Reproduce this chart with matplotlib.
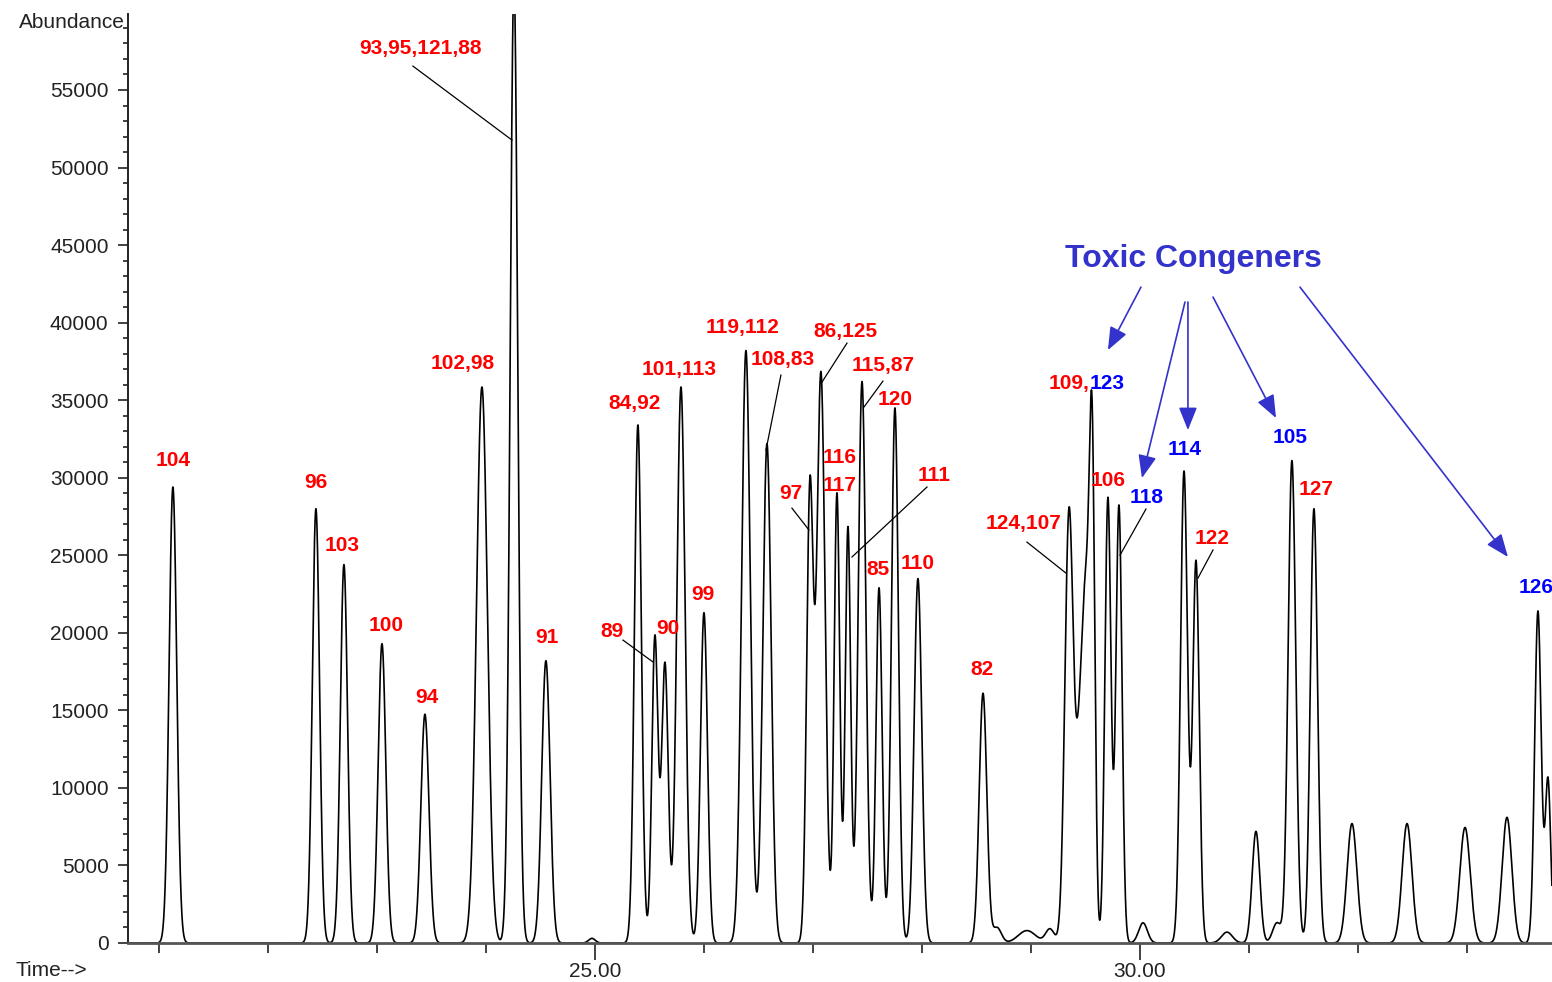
import numpy as np
import matplotlib
matplotlib.use("Agg")
import matplotlib.pyplot as plt
from matplotlib.ticker import MultipleLocator, FixedLocator

plt.rcParams['font.family'] = ['Liberation Sans', 'DejaVu Sans']

# Peak table: retention time (min), apex abundance, peak sigma (min)
peak_times = [21.128, 22.440, 22.697, 23.046, 23.440, 23.963, 24.257, 24.550,
              24.972, 25.394, 25.550, 25.642, 25.789, 26.000, 26.385, 26.578,
              26.972, 27.073, 27.220, 27.321, 27.450, 27.606, 27.752, 27.963,
              28.560, 28.688, 28.963, 29.174, 29.349, 29.450, 29.510, 29.562,
              29.706, 29.807, 30.028, 30.404, 30.514, 30.798, 31.064, 31.257,
              31.394, 31.596, 31.945, 32.450, 32.982, 33.367, 33.651, 33.743]
peak_heights = [29400, 28000, 24400, 19300, 14750, 35850, 62000, 18200,
                300, 33400, 19700, 18000, 35850, 21300, 38200, 32200,
                29000, 36750, 29000, 26800, 36200, 22900, 34500, 23500,
                16100, 1000, 800, 900, 27600, 12000, 18000, 28500,
                28700, 28200, 1300, 30400, 24600, 700, 7200, 1300,
                31100, 28000, 7700, 7700, 7450, 8100, 21400, 10500]
peak_widths = [0.035, 0.033, 0.033, 0.035, 0.037, 0.050, 0.035, 0.038,
               0.030, 0.032, 0.028, 0.030, 0.038, 0.032, 0.040, 0.038,
               0.030, 0.038, 0.026, 0.025, 0.035, 0.028, 0.032, 0.035,
               0.035, 0.040, 0.080, 0.040, 0.038, 0.040, 0.035, 0.025,
               0.028, 0.028, 0.040, 0.032, 0.030, 0.050, 0.035, 0.040,
               0.035, 0.033, 0.045, 0.045, 0.048, 0.045, 0.030, 0.025]

# Congener labels: text, time, abundance, colour
RED = '#ff0000'
BLUE = '#0000ff'
label_text = ['104', '96', '103', '100', '94', '102,98', '93,95,121,88', '91',
              '84,92', '89', '90', '99', '101,113', '119,112', '108,83',
              '86,125', '115,87', '120', '116', '117', '97', '111', '85',
              '110', '82', '124,107', '106', '118', '114', '122', '105',
              '127', '126']
label_x = [21.128, 22.440, 22.679, 23.083, 23.459, 23.789, 23.404, 24.560,
           25.367, 25.156, 25.670, 25.991, 25.771, 26.358, 26.725,
           27.294, 27.642, 27.752, 27.248, 27.248, 26.798, 28.110, 27.596,
           27.963, 28.550, 28.927, 29.706, 30.064, 30.413, 30.661, 31.376,
           31.615, 33.633]
label_y = [31100, 29700, 25660, 20500, 15860, 37390, 57700, 19730,
           34810, 20110, 20310, 22440, 37010, 39710, 37650,
           39460, 37260, 35070, 31330, 29530, 29010, 30170, 24110,
           24500, 17660, 27080, 29790, 28750, 31850, 26050, 32620,
           29270, 22950]
label_color = [RED] * 27 + [BLUE, BLUE, RED, BLUE, RED, BLUE]

# Leader lines from label to peak: (x0, y0, x1, y1)
leaders = [(23.330, 56540, 24.239, 51770),
           (25.257, 19530, 25.532, 18120),
           (26.706, 36620, 26.569, 31780),
           (27.312, 38680, 27.083, 36170),
           (27.642, 36230, 27.468, 34560),
           (26.807, 28040, 26.963, 26630),
           (28.046, 29400, 27.358, 24890),
           (28.963, 25850, 29.321, 23850),
           (30.055, 27980, 29.817, 25010),
           (30.670, 25340, 30.532, 23530)]

# Arrows from the "Toxic Congeners" caption
arrows = [(30.009, 42290, 29.706, 38230),
          (30.413, 41330, 30.018, 29980),
          (30.440, 41330, 30.440, 33070),
          (30.670, 41650, 31.248, 33850),
          (31.468, 42290, 33.376, 24890)]

t_min, t_max = 20.716, 33.78


def build_trace(t):
    y = np.zeros_like(t)
    for t0, h, w in zip(peak_times, peak_heights, peak_widths):
        y += h * np.exp(-0.5 * ((t - t0) / w) ** 2)
    return y


t = np.arange(t_min, t_max, 0.001)
trace = build_trace(t)

fig = plt.figure(figsize=(15.52, 9.82), dpi=100)
ax = fig.add_axes([128 / 1552, 39 / 982, 1424 / 1552, 929 / 982])

ax.plot(t, trace, color='black', lw=1.2)

ax.set_xlim(t_min, t_max)
ax.set_ylim(0, 59900)

for side in ('top', 'right'):
    ax.spines[side].set_visible(False)
ax.spines['left'].set_color('#222222')
ax.spines['left'].set_linewidth(1.4)
ax.spines['bottom'].set_color('#555555')
ax.spines['bottom'].set_linewidth(2.0)

ax.xaxis.set_major_locator(FixedLocator([25, 30]))
ax.xaxis.set_minor_locator(MultipleLocator(1))
ax.set_xticklabels(['25.00', '30.00'])
ax.yaxis.set_major_locator(MultipleLocator(5000))
ax.yaxis.set_minor_locator(MultipleLocator(1000))
ax.set_yticks(np.arange(0, 55001, 5000))

ax.tick_params(axis='x', which='major', length=12, width=1.2, pad=2,
               labelsize=15, colors='#222222')
ax.tick_params(axis='x', which='minor', length=7, width=1.2, colors='#222222')
ax.tick_params(axis='y', which='major', length=7, width=1.2, pad=7,
               labelsize=15, colors='#222222')
ax.tick_params(axis='y', which='minor', length=3.6, width=1.2, colors='#222222')

fig.text(125 / 1552, 1 - 22 / 982, 'Abundance', ha='right', va='center',
         fontsize=15, color='#222222')
fig.text(15 / 1552, 1 - 970 / 982, 'Time-->', ha='left', va='center',
         fontsize=15, color='#222222')

# leader lines
for x0, y0, x1, y1 in leaders:
    ax.plot([x0, x1], [y0, y1], color='black', lw=0.9)

# congener numbers
for s, x, y, c in zip(label_text, label_x, label_y, label_color):
    ax.text(x, y, s, color=c, fontsize=15, fontweight='bold',
            ha='center', va='center', clip_on=False)

# co-eluting pair with one toxic congener
ax.text(29.541, 36100, '109,', color=RED, fontsize=15, fontweight='bold',
        ha='right', va='center')
ax.text(29.541, 36100, '123', color=BLUE, fontsize=15, fontweight='bold',
        ha='left', va='center')

ax.text(30.486, 44100, 'Toxic Congeners', color='#3333cc', fontsize=23,
        fontweight='bold', ha='center', va='center')
for x0, y0, x1, y1 in arrows:
    ax.annotate('', xy=(x1, y1), xytext=(x0, y0),
                arrowprops=dict(arrowstyle='-|>,head_length=1.0,head_width=0.4',
                                mutation_scale=14, color='#3333cc', lw=1.2,
                                shrinkA=0, shrinkB=0))

fig.savefig('out.png', dpi=100)
